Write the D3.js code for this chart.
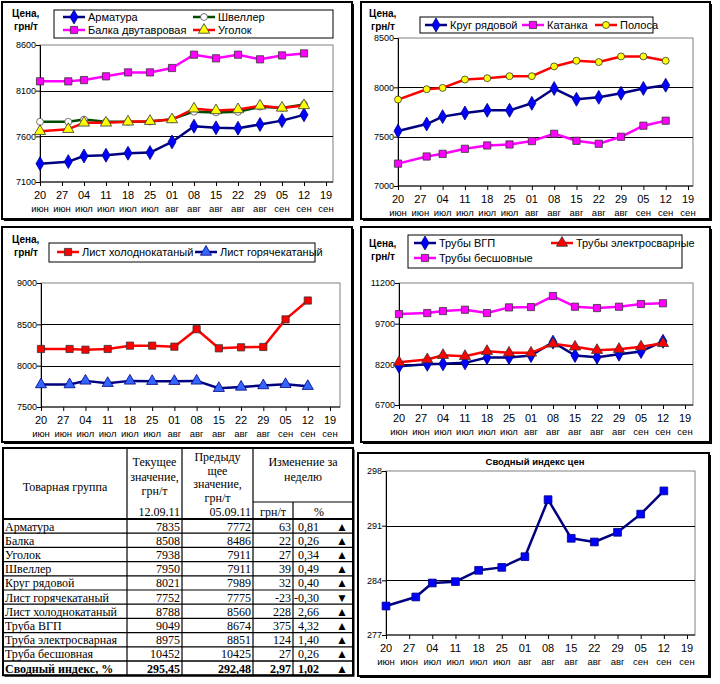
<!DOCTYPE html>
<html><head><meta charset="utf-8">
<script src="https://cdn.jsdelivr.net/npm/d3@7"></script>
<style>body{margin:0;background:#fff}svg{display:block}</style>
</head><body>
<svg id="c" width="720" height="684"></svg>
<script>
const dates = ["2011-06-20","2011-06-29","2011-07-04","2011-07-11","2011-07-18","2011-07-25","2011-08-01","2011-08-08","2011-08-15","2011-08-22","2011-08-29","2011-09-05","2011-09-12"];
const tickDates = ["2011-06-20","2011-06-27","2011-07-04","2011-07-11","2011-07-18","2011-07-25","2011-08-01","2011-08-08","2011-08-15","2011-08-22","2011-08-29","2011-09-05","2011-09-12","2011-09-19"];
const tickDays = ["20","27","04","11","18","25","01","08","15","22","29","05","12","19"];
const tickMonths = ["июн","июн","июл","июл","июл","июл","авг","авг","авг","авг","авг","сен","сен","сен"];

const armatura = [7301,7323,7385,7393,7415,7422,7539,7711,7693,7689,7730,7772,7835];
const balka = [8202,8202,8216,8257,8300,8300,8348,8494,8454,8494,8443,8486,8508];
const shveller = [7759,7759,7784,7759,7760,7762,7788,7870,7862,7868,7925,7911,7950];
const ugolok = [7656,7678,7748,7748,7759,7766,7784,7902,7883,7894,7934,7911,7938];
const krug = [7557,7628,7703,7740,7767,7767,7838,7988,7879,7899,7940,7989,8021];
const katanka = [7227,7299,7326,7377,7411,7421,7455,7529,7458,7428,7499,7611,7662];
const polosa = [7876,7981,7994,8079,8093,8113,8113,8212,8269,8256,8313,8313,8269];
const kholod = [8202,8202,8193,8202,8242,8242,8230,8441,8210,8222,8226,8560,8788];
const goryach = [7772,7772,7816,7788,7816,7812,7812,7816,7727,7743,7760,7775,7752];
const vgp = [8130,8204,8217,8254,8451,8451,8525,9018,8525,8463,8574,8674,9049];
const elektro = [8278,8377,8537,8500,8685,8623,8623,8956,8845,8722,8759,8851,8975];
const besh = [10054,10091,10165,10214,10091,10300,10313,10720,10325,10276,10325,10425,10452];
const indexVals = [280.71,281.87,283.66,283.83,285.28,285.66,287.03,294.33,289.38,288.91,290.15,292.48,295.45];

const ticks1 = [7100,7600,8100,8600];
const ticks2 = [7000,7500,8000,8500];
const ticks3 = [7500,8000,8500,9000];
const ticks4 = [6700,8200,9700,11200];
const ticks6 = [277,284,291,298];

const tableNames = ["Арматура","Балка","Уголок","Швеллер","Круг рядовой","Лист горячекатаный","Лист холоднокатаный","Труба ВГП","Труба электросварная","Труба бесшовная","Сводный индекс, %"];
const tableCur = ["7835","8508","7938","7950","8021","7752","8788","9049","8975","10452","295,45"];
const tablePrev = ["7772","8486","7911","7911","7989","7775","8560","8674","8851","10425","292,48"];
const tableDiff = ["63","22","27","39","32","-23","228","375","124","27","2,97"];
const tablePct = ["0,81","0,26","0,34","0,49","0,40","-0,30","2,66","4,32","1,40","0,26","1,02"];
const tableDir = ["▲","▲","▲","▲","▲","▼","▲","▲","▲","▲","▲"];

const NAVY="#000080", BLUE="#0000ff", MAG="#ff00ff", RED="#ff0000", GREEN="#004d00", YEL="#ffff00";
const SANS="'Liberation Sans', Arial, sans-serif", SERIF="'Liberation Serif','Times New Roman', serif";
const svg = d3.select("#c");
const parse = d3.timeParse("%Y-%m-%d");

function frame(x0,y0,x1,y1){
  svg.append("rect").attr("x",x0+2).attr("y",y0+2).attr("width",x1-x0).attr("height",y1-y0).attr("fill","#000");
  svg.append("rect").attr("x",x0).attr("y",y0).attr("width",x1-x0).attr("height",y1-y0).attr("fill","#fff").attr("stroke","#000").attr("stroke-width",2);
}

function marker(type, size){
  const t = {diamond:d3.symbolDiamond, square:d3.symbolSquare, triangle:d3.symbolTriangle, circle:d3.symbolCircle}[type];
  return d3.symbol().type(t).size(size)();
}

function drawMarker(g,x,y,s){
  g.append("path").attr("d",marker(s.marker,s.msize||50)).attr("transform",`translate(${x},${y})`)
   .attr("fill",s.mfill).attr("stroke",s.mstroke).attr("stroke-width",0.8);
}

function panel(cfg){
  frame(...cfg.frame);
  const p = cfg.plot;
  const x = d3.scaleTime().domain([parse(tickDates[0]),parse(tickDates[tickDates.length-1])]).range([p.l,cfg.x19]);
  const y = d3.scaleLinear().domain([cfg.ticks[0],cfg.ticks[cfg.ticks.length-1]]).range([p.b,p.t]);
  const g = svg.append("g");
  g.append("rect").attr("x",p.l).attr("y",p.t).attr("width",p.r-p.l).attr("height",p.b-p.t).attr("fill","#fff").attr("stroke","#808080").attr("stroke-width",1);
  g.selectAll(".grid").data(cfg.ticks.slice(1,-1)).enter().append("line")
    .attr("x1",p.l).attr("x2",p.r).attr("y1",d=>Math.round(y(d))+0.5).attr("y2",d=>Math.round(y(d))+0.5).attr("stroke","#000").attr("stroke-width",1);
  const ya = d3.axisLeft(y).tickValues(cfg.ticks).tickSize(4).tickFormat(d=>String(d));
  const yg = g.append("g").attr("transform",`translate(${p.l},0)`).call(ya);
  yg.select(".domain").attr("stroke","#000");
  yg.selectAll("text").attr("font-family",SANS).attr("font-size",9).attr("fill","#000").attr("x",-4);
  const xa = d3.axisBottom(x).tickValues(tickDates.map(parse)).tickSize(4).tickFormat("");
  const xg = g.append("g").attr("transform",`translate(0,${p.b})`).call(xa);
  xg.select(".domain").attr("d",`M${p.l},0H${p.r}`).attr("stroke","#000");
  g.selectAll(".dl").data(tickDates).enter().append("text")
    .attr("x",d=>x(parse(d))).attr("y",p.b+17).attr("text-anchor","middle").attr("font-family",SANS).attr("font-size",11)
    .text((d,i)=>tickDays[i]);
  g.selectAll(".ml").data(tickDates).enter().append("text")
    .attr("x",d=>x(parse(d))).attr("y",p.b+30).attr("text-anchor","middle").attr("font-family",SANS).attr("font-size",9.5)
    .text((d,i)=>tickMonths[i]);
  if(cfg.unit){
    g.append("text").attr("x",cfg.unit[0]).attr("y",cfg.unit[1]).attr("font-family",SANS).attr("font-size",10).attr("font-weight","bold").text("Цена,");
    g.append("text").attr("x",cfg.unit[0]+2).attr("y",cfg.unit[1]+13).attr("font-family",SANS).attr("font-size",10).attr("font-weight","bold").text("грн/т");
  }
  if(cfg.title){
    g.append("text").attr("x",cfg.title[0]).attr("y",cfg.title[1]).attr("text-anchor","middle").attr("font-family",SANS).attr("font-size",9.5).attr("font-weight","bold").text(cfg.title[2]);
  }
  const line = d3.line().x((d,i)=>x(parse(dates[i]))).y(d=>y(d));
  cfg.series.forEach(s=>{
    g.append("path").attr("d",line(s.values)).attr("fill","none").attr("stroke",s.color).attr("stroke-width",2.5).attr("stroke-linejoin","round");
  });
  cfg.series.forEach(s=>{
    s.values.forEach((v,i)=>drawMarker(g,x(parse(dates[i])),y(v),s));
  });
  if(cfg.legend){
    const L = cfg.legend;
    g.append("rect").attr("x",L.box[0]).attr("y",L.box[1]).attr("width",L.box[2]-L.box[0]).attr("height",L.box[3]-L.box[1]).attr("fill","#fff").attr("stroke","#000").attr("stroke-width",1);
    L.items.forEach(it=>{
      const s = cfg.series[it.i];
      g.append("line").attr("x1",it.x).attr("x2",it.x+22).attr("y1",it.y).attr("y2",it.y).attr("stroke",s.color).attr("stroke-width",2.5);
      drawMarker(g,it.x+11,it.y,s);
      g.append("text").attr("x",it.x+25).attr("y",it.y+4).attr("font-family",SANS).attr("font-size",11).text(s.name);
    });
  }
}

panel({frame:[2,2,352,219], plot:{l:40,t:45,r:333,b:182}, x19:326, ticks:ticks1, unit:[12,17],
  series:[
    {name:"Арматура",values:armatura,color:NAVY,marker:"diamond",mfill:BLUE,mstroke:NAVY,msize:56},
    {name:"Швеллер",values:shveller,color:GREEN,marker:"circle",mfill:"#fff",mstroke:"#555",msize:38},
    {name:"Балка двутавровая",values:balka,color:MAG,marker:"square",mfill:MAG,mstroke:"#333",msize:52},
    {name:"Уголок",values:ugolok,color:RED,marker:"triangle",mfill:YEL,mstroke:"#333",msize:54}
  ],
  legend:{box:[54,10,333,38], items:[{i:0,x:63,y:17},{i:1,x:193,y:17},{i:2,x:63,y:30},{i:3,x:193,y:30}]}
});

panel({frame:[361,2,710,219], plot:{l:398,t:38,r:693,b:186}, x19:688, ticks:ticks2, unit:[369,17],
  series:[
    {name:"Круг рядовой",values:krug,color:NAVY,marker:"diamond",mfill:BLUE,mstroke:NAVY,msize:56},
    {name:"Катанка",values:katanka,color:MAG,marker:"square",mfill:MAG,mstroke:"#333",msize:52},
    {name:"Полоса",values:polosa,color:RED,marker:"circle",mfill:YEL,mstroke:"#333",msize:38}
  ],
  legend:{box:[420,17,653,33], items:[{i:0,x:425,y:25},{i:1,x:522,y:25},{i:2,x:595,y:25}]}
});

panel({frame:[2,227,352,442], plot:{l:41,t:283,r:340,b:407}, x19:330, ticks:ticks3, unit:[12,243],
  series:[
    {name:"Лист холоднокатаный",values:kholod,color:RED,marker:"square",mfill:RED,mstroke:"#333",msize:52},
    {name:"Лист горячекатаный",values:goryach,color:NAVY,marker:"triangle",mfill:"#3366ff",mstroke:NAVY,msize:54}
  ],
  legend:{box:[49,243,315,262], items:[{i:0,x:57,y:252},{i:1,x:195,y:252}]}
});

panel({frame:[361,227,710,442], plot:{l:399,t:283,r:693,b:405}, x19:685, ticks:ticks4, unit:[369,247],
  series:[
    {name:"Трубы ВГП",values:vgp,color:NAVY,marker:"diamond",mfill:BLUE,mstroke:NAVY,msize:56},
    {name:"Трубы электросварные",values:elektro,color:RED,marker:"triangle",mfill:RED,mstroke:"#333",msize:54},
    {name:"Трубы бесшовные",values:besh,color:MAG,marker:"square",mfill:MAG,mstroke:"#333",msize:52}
  ],
  legend:{box:[408,235,682,268], items:[{i:0,x:414,y:243},{i:1,x:551,y:243},{i:2,x:414,y:258}]}
});

panel({frame:[358,453,709,676], plot:{l:386,t:471,r:695,b:635}, x19:687, ticks:ticks6, title:[535,465,"Сводный индекс цен"],
  series:[
    {name:"Сводный индекс цен",values:indexVals,color:NAVY,marker:"square",mfill:BLUE,mstroke:NAVY,msize:60}
  ]
});

(function(){
  const cols=[3,127,182,253,293,353];
  const top=448, sub=502, hb=519, rh=14.2, n=tableNames.length;
  const bottom = hb + rh*n;
  const g = svg.append("g").attr("font-family",SERIF).attr("font-size",12).attr("fill","#000");
  g.append("rect").attr("x",cols[0]+1.5).attr("y",top+1.5).attr("width",cols[5]-cols[0]).attr("height",bottom-top).attr("fill","#000");
  g.append("rect").attr("x",cols[0]).attr("y",top).attr("width",cols[5]-cols[0]).attr("height",bottom-top).attr("fill","#fff").attr("stroke","#000").attr("stroke-width",2);
  const ln=(x1,y1,x2,y2,w)=>g.append("line").attr("x1",x1).attr("y1",y1).attr("x2",x2).attr("y2",y2).attr("stroke","#000").attr("stroke-width",w||1.2);
  cols.slice(1,5).forEach((c,i)=>ln(c,i===3?sub:top,c,bottom));
  ln(cols[3],sub,cols[5],sub);
  ln(cols[0],hb,cols[5],hb,1.8);
  for(let i=1;i<n;i++) ln(cols[0],hb+rh*i,cols[5],hb+rh*i, i===n-1?1.5:1.2);
  const t=(x,y,s,a,b)=>g.append("text").attr("x",x).attr("y",y).attr("text-anchor",a||"start").attr("font-weight",b?"bold":null).text(s);
  t((cols[0]+cols[1])/2,491,"Товарная группа","middle");
  ["Текущее","значение,","грн/т"].forEach((s,i)=>t((cols[1]+cols[2])/2,466+i*14.5,s,"middle"));
  ["Предыду","щее","значение,","грн/т"].forEach((s,i)=>t((cols[2]+cols[3])/2,461+i*13.5,s,"middle"));
  ["Изменение за","неделю"].forEach((s,i)=>t((cols[3]+cols[5])/2,466+i*14.5,s,"middle"));
  t(cols[2]-2,516,"12.09.11","end");
  t(cols[3]-2,516,"05.09.11","end");
  t((cols[3]+cols[4])/2,516,"грн/т","middle");
  t((cols[4]+cols[5])/2-4,516,"%","middle");
  tableNames.forEach((nm,i)=>{
    const yb = hb + rh*i + 11.5, b = i===n-1;
    t(cols[0]+2,yb,nm,"start",b);
    t(cols[2]-2,yb,tableCur[i],"end",b);
    t(cols[3]-2,yb,tablePrev[i],"end",b);
    t(cols[4]-2,yb,tableDiff[i],"end",b);
    t(cols[4]+26,yb,tablePct[i],"end",b);
    g.append("text").attr("x",cols[5]-11).attr("y",yb).attr("text-anchor","middle").attr("font-family",SANS).attr("font-size",12).text(tableDir[i]);
  });
})();
</script>
</body></html>
